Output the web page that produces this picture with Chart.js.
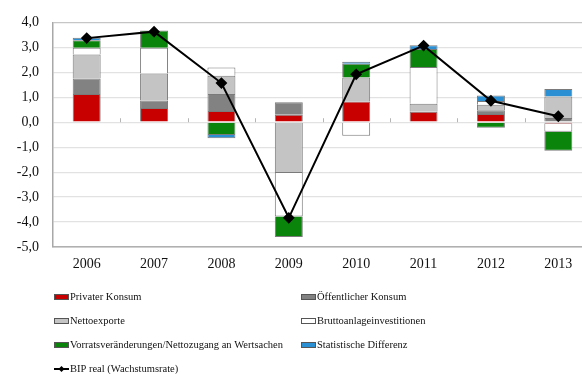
<!DOCTYPE html>
<html>
<head>
<meta charset="utf-8">
<script src="https://cdn.jsdelivr.net/npm/chart.js@4"></script>
<style>
  html, body { margin: 0; padding: 0; background: #fff; overflow: hidden; }
  #wrap { width: 600px; height: 374px; }
</style>
</head>
<body>
<div id="wrap"><canvas id="wachstumChart"></canvas></div>
<script>
// Beiträge zum BIP-Wachstum (Prozentpunkte)
const jahre = ['2006', '2007', '2008', '2009', '2010', '2011', '2012', '2013'];
const privaterKonsum      = [1.13, 0.57, 0.45, 0.30, 0.83, 0.42, 0.33, -0.06];
const oeffentlKonsum      = [0.62, 0.30, 0.68, 0.50, 0.00, 0.00, 0.15, 0.17];
const nettoexporte        = [0.96, 1.08, 0.73, -2.03, 0.96, 0.32, 0.22, 0.86];
const bruttoanlage        = [0.27, 1.03, 0.33, -1.75, -0.54, 1.47, 0.15, -0.32];
const vorratsveraenderung = [0.30, 0.70, -0.51, -0.82, 0.55, 0.72, -0.22, -0.76];
const statistDifferenz    = [0.10, 0.00, -0.13, 0.00, 0.08, 0.15, 0.22, 0.30];
const bipReal             = [3.37, 3.63, 1.57, -3.83, 1.92, 3.07, 0.86, 0.24];

const serif = '"Liberation Serif", "DejaVu Serif", serif';

function barSet(label, data, color) {
    return {
        type: 'bar',
        label: label,
        data: data,
        backgroundColor: color,
        borderColor: '#7a7a7a',
        borderWidth: 1,
        stack: 'beitraege',
        order: 1,
        categoryPercentage: 1,
        barPercentage: 0.415
    };
}

// kleine Striche an den Kategoriegrenzen auf der Nulllinie
const zeroTicks = {
    id: 'zeroTicks',
    beforeDatasetsDraw(chart) {
        const ctx = chart.ctx;
        const xs = chart.scales.x, ys = chart.scales.y;
        const y0 = ys.getPixelForValue(0);
        const step = xs.getPixelForValue(1) - xs.getPixelForValue(0);
        ctx.save();
        ctx.strokeStyle = '#b5b5b5';
        ctx.lineWidth = 1;
        for (let i = 0; i < jahre.length; i++) {
            const x = Math.round(xs.getPixelForValue(i) + step / 2) + 0.5;
            ctx.beginPath();
            ctx.moveTo(x, y0 - 4);
            ctx.lineTo(x, y0);
            ctx.stroke();
        }
        ctx.restore();
    }
};

// Legende in zwei Spalten unter dem Diagramm
const gridLegend = {
    id: 'gridLegend',
    afterDraw(chart) {
        const ctx = chart.ctx;
        const area = chart.chartArea;
        const cols = [area.left + 1, 301];
        ctx.save();
        ctx.font = '10.5px ' + serif;
        ctx.textBaseline = 'middle';
        chart.data.datasets.forEach((ds, i) => {
            const x = cols[i % 2];
            const y = Math.round(area.bottom + 50 + Math.floor(i / 2) * 24);
            if (ds.type === 'line') {
                ctx.strokeStyle = '#000';
                ctx.lineWidth = 2;
                ctx.beginPath();
                ctx.moveTo(x, y);
                ctx.lineTo(x + 15, y);
                ctx.stroke();
                ctx.fillStyle = '#000';
                ctx.beginPath();
                ctx.moveTo(x + 7.5, y - 3);
                ctx.lineTo(x + 10.5, y);
                ctx.lineTo(x + 7.5, y + 3);
                ctx.lineTo(x + 4.5, y);
                ctx.closePath();
                ctx.fill();
            } else {
                ctx.fillStyle = ds.backgroundColor;
                ctx.fillRect(x, y - 3, 15, 6);
                ctx.strokeStyle = '#555';
                ctx.lineWidth = 1;
                ctx.strokeRect(x + 0.5, y - 2.5, 14, 5);
            }
            ctx.fillStyle = '#111';
            ctx.fillText(ds.label, x + 16, y);
        });
        ctx.restore();
    }
};

const chart = new Chart(document.getElementById('wachstumChart'), {
    data: {
        labels: jahre,
        datasets: [
            barSet('Privater Konsum', privaterKonsum, '#c80000'),
            barSet('Öffentlicher Konsum', oeffentlKonsum, '#828282'),
            barSet('Nettoexporte', nettoexporte, '#c4c4c4'),
            barSet('Bruttoanlageinvestitionen', bruttoanlage, '#ffffff'),
            barSet('Vorratsveränderungen/Nettozugang an Wertsachen', vorratsveraenderung, '#0a840a'),
            barSet('Statistische Differenz', statistDifferenz, '#2b8fd4'),
            {
                type: 'line',
                label: 'BIP real (Wachstumsrate)',
                data: bipReal,
                borderColor: '#000',
                backgroundColor: '#000',
                borderWidth: 2,
                pointStyle: 'rectRot',
                pointRadius: 4.5,
                tension: 0,
                stack: 'bip',
                order: 0
            }
        ]
    },
    options: {
        responsive: true,
        maintainAspectRatio: false,
        animation: false,
        layout: {
            padding: { top: 19, right: 8, left: 0, bottom: 0 }
        },
        plugins: {
            legend: { display: false },
            tooltip: { enabled: false }
        },
        scales: {
            x: {
                stacked: true,
                grid: { display: false },
                border: { display: true, color: '#b0b0b0', width: 1.5 },
                ticks: {
                    color: '#111',
                    padding: 1,
                    font: { family: serif, size: 14 }
                },
                afterFit(scale) { scale.height = 127; }
            },
            y: {
                stacked: true,
                min: -5,
                max: 4,
                ticks: {
                    stepSize: 1,
                    color: '#111',
                    padding: 14,
                    font: { family: serif, size: 14 },
                    callback: (v) => v.toFixed(1).replace('.', ',')
                },
                grid: {
                    drawTicks: false,
                    color: (c) => (c.tick && (c.tick.value === 4 || c.tick.value === -5)) ? '#c6c6c6' : '#e2e2e2',
                    lineWidth: 1.2
                },
                border: { display: true, color: '#a8a8a8', width: 1.5 },
                afterFit(scale) { scale.width = 53; }
            }
        }
    },
    plugins: [zeroTicks, gridLegend]
});
</script>
</body>
</html>
